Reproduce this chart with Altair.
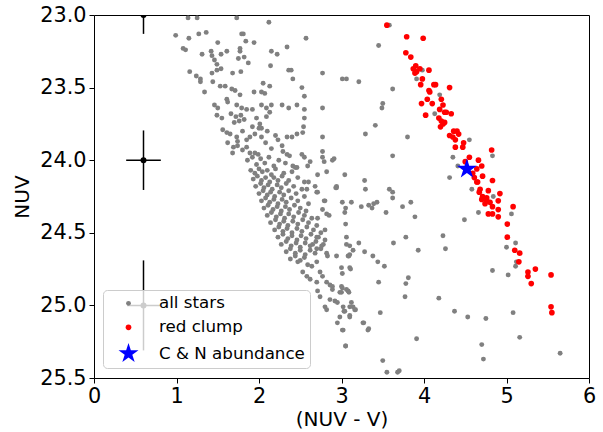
import altair as alt
import pandas as pd

# ---------------- data ----------------
gray_upper = [
    (1.14, 23.02), (1.25, 23.02), (1.73, 23.02), (2.12, 23.05), (0.99, 23.14), (1.15, 23.16),
    (1.27, 23.13), (1.36, 23.12), (1.79, 23.13), (1.81, 23.13), (2.57, 23.16), (1.50, 23.19),
    (1.84, 23.18), (1.94, 23.19), (1.08, 23.23), (1.11, 23.24), (1.31, 23.27), (1.42, 23.25),
    (1.43, 23.28), (1.54, 23.27), (1.61, 23.25), (1.77, 23.23), (1.77, 23.25), (2.15, 23.25),
    (2.22, 23.27), (2.34, 23.22), (1.46, 23.31), (1.49, 23.34), (1.75, 23.30), (1.82, 23.29),
    (1.87, 23.33), (2.14, 23.35), (1.16, 23.39), (1.24, 23.42), (1.29, 23.44), (1.29, 23.46),
    (1.43, 23.40), (1.49, 23.38), (1.54, 23.37), (1.68, 23.40), (1.78, 23.39), (2.36, 23.38),
    (2.39, 23.38), (2.41, 23.44), (2.77, 23.40), (3.01, 23.44), (3.06, 23.44), (1.34, 23.53),
    (1.44, 23.46), (1.53, 23.49), (1.59, 23.49), (1.67, 23.51), (1.71, 23.52), (1.77, 23.55),
    (1.94, 23.53), (2.03, 23.53), (2.07, 23.54), (2.05, 23.47), (2.13, 23.49), (2.52, 23.50),
    (2.55, 23.56), (1.46, 23.62), (1.50, 23.64), (1.49, 23.69), (1.55, 23.71), (1.61, 23.58),
    (1.62, 23.60), (1.73, 23.62), (1.79, 23.64), (1.85, 23.65), (1.92, 23.65), (2.03, 23.62),
    (2.09, 23.64), (2.15, 23.62), (2.13, 23.67), (2.09, 23.70), (2.28, 23.62), (2.36, 23.64),
    (2.46, 23.62), (2.55, 23.65), (2.55, 23.71), (2.77, 23.64), (1.66, 23.68), (1.72, 23.70),
    (1.78, 23.69), (1.82, 23.72), (1.70, 23.74), (1.76, 23.73), (1.97, 23.71), (2.01, 23.75),
    (1.92, 23.77), (2.03, 23.78), (1.56, 23.79), (1.61, 23.81), (1.65, 23.82), (1.73, 23.84),
    (1.74, 23.87), (1.85, 23.86), (1.89, 23.84), (1.95, 23.82), (2.03, 23.84), (2.00, 23.78),
    (2.23, 23.86), (2.28, 23.90), (2.34, 23.84), (2.40, 23.84), (2.46, 23.82), (2.53, 23.81),
    (2.54, 23.77), (2.77, 23.84), (1.69, 23.91), (1.74, 23.90), (1.80, 23.93), (1.85, 23.91),
    (1.89, 23.95), (1.95, 23.95), (1.99, 23.96), (2.29, 23.94), (2.34, 23.96), (2.37, 23.97),
    (2.52, 23.96), (2.55, 23.98), (2.62, 24.01), (2.59, 24.04), (2.77, 23.94), (2.77, 23.98),
    (2.89, 24.00), (2.82, 24.08), (3.04, 24.10), (2.71, 24.10), (2.70, 24.22), (2.94, 24.19),
    (2.79, 24.01), (2.91, 23.99), (2.93, 24.19), (1.62, 23.88), (1.68, 23.95), (2.08, 23.88),
    (2.15, 23.92), (2.10, 23.80), (2.20, 23.83), (1.80, 23.80), (2.41, 24.04), (2.46, 24.05),
    (2.55, 24.15), (2.60, 24.15), (2.68, 24.18), (2.71, 24.22), (2.58, 24.20),
]

gray_band = [
    (1.86, 24.00), (1.92, 23.98), (1.97, 24.03), (2.02, 23.99), (2.07, 24.02), (2.12, 23.98),
    (2.18, 24.04), (2.24, 24.00), (2.32, 24.02), (2.44, 24.05),
    (1.90, 24.07), (1.95, 24.09), (2.00, 24.06), (2.04, 24.08), (2.10, 24.07), (2.15, 24.10),
    (2.20, 24.06), (2.30, 24.09), (2.40, 24.08),
    (1.93, 24.13), (1.98, 24.11), (2.03, 24.14), (2.08, 24.12), (2.13, 24.15), (2.18, 24.12),
    (2.23, 24.14), (2.28, 24.11), (2.36, 24.14), (2.47, 24.12),
    (1.96, 24.18), (2.02, 24.16), (2.06, 24.19), (2.11, 24.17), (2.16, 24.20), (2.22, 24.17),
    (2.27, 24.19), (2.33, 24.16), (2.42, 24.18), (2.52, 24.20),
    (2.00, 24.23), (2.05, 24.21), (2.10, 24.24), (2.14, 24.22), (2.19, 24.25), (2.25, 24.22),
    (2.30, 24.24), (2.36, 24.21), (2.45, 24.23), (2.55, 24.25),
    (2.03, 24.28), (2.08, 24.26), (2.13, 24.29), (2.18, 24.27), (2.23, 24.30), (2.28, 24.27),
    (2.33, 24.29), (2.39, 24.26), (2.47, 24.28), (2.60, 24.30),
    (2.06, 24.33), (2.11, 24.31), (2.17, 24.34), (2.22, 24.32), (2.27, 24.35), (2.32, 24.32),
    (2.37, 24.34), (2.43, 24.31), (2.50, 24.33), (2.57, 24.35),
    (2.10, 24.38), (2.15, 24.36), (2.21, 24.39), (2.26, 24.37), (2.31, 24.40), (2.36, 24.37),
    (2.42, 24.39), (2.48, 24.36), (2.55, 24.38), (2.64, 24.40),
    (2.14, 24.43), (2.20, 24.41), (2.25, 24.44), (2.30, 24.42), (2.35, 24.45), (2.41, 24.42),
    (2.47, 24.44), (2.53, 24.41), (2.60, 24.43), (2.70, 24.45),
    (2.19, 24.48), (2.24, 24.46), (2.29, 24.49), (2.34, 24.47), (2.40, 24.50), (2.46, 24.47),
    (2.52, 24.49), (2.58, 24.46), (2.66, 24.48), (2.75, 24.50),
    (2.23, 24.53), (2.29, 24.51), (2.35, 24.54), (2.40, 24.52), (2.46, 24.55), (2.51, 24.52),
    (2.57, 24.54), (2.63, 24.51), (2.72, 24.53),
    (2.27, 24.58), (2.33, 24.56), (2.39, 24.59), (2.45, 24.57), (2.50, 24.60), (2.56, 24.57),
    (2.62, 24.59), (2.69, 24.56), (2.78, 24.58),
    (2.33, 24.63), (2.38, 24.61), (2.44, 24.64), (2.50, 24.62), (2.56, 24.65), (2.62, 24.62),
    (2.68, 24.64), (2.75, 24.61),
    (2.38, 24.68), (2.44, 24.66), (2.50, 24.69), (2.55, 24.67),
    (2.80, 24.28), (2.77, 24.34), (2.82, 24.37), (2.71, 24.40), (2.80, 24.48), (2.70, 24.53),
    (2.80, 24.55), (2.76, 24.59), (2.70, 24.61), (2.65, 24.58), (2.82, 24.64), (2.94, 24.66),
    (2.85, 24.38), (2.79, 24.28),
]

gray_lower = [
    (2.47, 24.70), (2.53, 24.77), (2.58, 24.80), (2.62, 24.82), (2.59, 24.72), (2.64, 24.73),
    (2.70, 24.70), (2.74, 24.77), (2.77, 24.80), (2.82, 24.84), (2.86, 24.86), (2.89, 24.87),
    (2.70, 24.84), (2.71, 24.90), (2.74, 24.94), (2.83, 24.66), (3.00, 24.74), (3.10, 24.74),
    (3.10, 24.65), (2.89, 24.89), (2.98, 24.91), (3.00, 24.87), (3.08, 24.90), (2.86, 24.96),
    (2.92, 24.97), (2.95, 24.98), (3.02, 25.01), (2.80, 25.01), (2.82, 25.03), (3.04, 25.04),
    (3.10, 25.01), (3.14, 25.01), (3.16, 25.03), (3.12, 24.98), (2.98, 25.08), (2.95, 25.12),
    (3.10, 25.08), (3.02, 25.17), (3.26, 25.12), (3.32, 25.17), (3.05, 25.28), (2.94, 24.18),
    (3.01, 24.29), (3.04, 24.36), (3.06, 24.58), (3.08, 24.66),
]

gray_right = [
    (3.58, 23.07), (3.45, 23.21), (3.21, 23.46), (3.62, 23.51), (3.50, 23.61), (3.49, 23.64),
    (3.41, 23.76), (3.29, 23.82), (3.80, 23.84), (3.62, 23.97), (3.28, 24.14), (3.29, 24.20),
    (3.58, 24.20), (3.62, 24.22), (3.62, 24.26), (3.98, 23.38), (3.91, 23.44), (4.19, 23.55),
    (4.13, 23.68), (4.55, 23.86), (4.35, 23.98), (4.41, 24.04), (4.31, 24.12), (4.58, 24.20),
    (4.83, 23.97), (4.84, 24.25), (4.66, 24.36), (4.49, 24.41), (5.06, 24.37), (5.11, 24.57),
    (5.00, 24.60), (5.12, 24.70), (5.11, 24.73), (4.83, 24.76), (5.02, 24.79), (4.23, 24.52),
    (4.26, 24.61), (4.18, 24.95), (4.37, 25.04), (4.53, 25.08), (4.75, 25.09), (5.08, 25.05),
    (5.16, 25.22), (4.70, 25.27), (4.72, 25.37), (5.65, 25.33), (3.91, 25.23), (3.50, 25.38),
    (3.55, 25.46), (3.68, 25.46), (3.70, 25.45), (3.05, 24.33), (3.12, 24.29), (3.24, 24.32),
    (3.33, 24.31), (3.39, 24.30), (3.43, 24.29), (3.54, 24.36), (3.74, 24.32), (3.84, 24.29),
    (3.89, 24.39), (3.05, 24.44), (3.06, 24.53), (3.10, 24.59), (3.14, 24.62), (3.09, 24.66),
    (3.21, 24.57), (3.28, 24.63), (3.38, 24.66), (3.44, 24.70), (3.52, 24.73), (3.63, 24.57),
    (3.78, 24.53), (3.93, 24.62), (3.01, 24.78), (3.11, 24.75), (3.81, 24.81), (3.78, 24.85),
    (3.77, 24.94), (3.45, 24.84), (3.01, 24.88), (3.06, 24.89), (3.09, 24.91), (3.00, 24.91),
    (3.17, 25.03), (3.03, 25.04), (3.10, 25.07), (3.47, 25.05), (3.27, 25.12), (3.33, 25.16),
    (3.01, 25.17), (3.05, 25.28), (3.37, 24.33),
]

red_clump = [
    (3.55, 23.07), (3.79, 23.15), (3.99, 23.16), (3.78, 23.26), (3.84, 23.29), (3.90, 23.35),
    (3.87, 23.37), (3.89, 23.40), (3.95, 23.37), (3.91, 23.39), (4.06, 23.38), (3.98, 23.44),
    (3.96, 23.48), (4.12, 23.48), (4.14, 23.48), (4.06, 23.52), (4.07, 23.53), (4.31, 23.50),
    (4.04, 23.58), (3.97, 23.61), (4.10, 23.61), (4.21, 23.58), (4.23, 23.62), (4.19, 23.65),
    (4.25, 23.67), (4.27, 23.67), (4.33, 23.68), (4.02, 23.69), (4.18, 23.71), (4.21, 23.73),
    (4.23, 23.75), (4.25, 23.74), (4.20, 23.77), (4.36, 23.80), (4.40, 23.80), (4.31, 23.83),
    (4.35, 23.84), (4.42, 23.82), (4.38, 23.86), (4.48, 23.88), (4.47, 23.91), (4.38, 23.91),
    (4.82, 23.93), (4.55, 23.98), (4.66, 24.00), (4.50, 24.01), (4.70, 24.04), (4.64, 24.06),
    (4.59, 24.09), (4.71, 24.11), (4.61, 24.12), (4.64, 24.15), (4.65, 24.15), (4.83, 24.14),
    (4.78, 24.21), (4.92, 24.23), (4.67, 24.22), (4.71, 24.25), (4.76, 24.26), (4.68, 24.20),
    (4.70, 24.27), (4.76, 24.28), (4.74, 24.30), (4.80, 24.29), (4.83, 24.32), (4.90, 24.28),
    (4.90, 24.34), (4.78, 24.37), (4.83, 24.37), (4.90, 24.39), (5.08, 24.32), (5.01, 24.44),
    (5.01, 24.53), (5.10, 24.62), (5.16, 24.64), (5.15, 24.70), (5.26, 24.77), (5.26, 24.80),
    (5.35, 24.75), (5.30, 24.85), (5.54, 24.79), (5.54, 25.01), (5.55, 25.05),
]

cn_abundance = [(4.52, 24.06)]

# representative error bars
err_x = [0.6, 0.6, 0.6]
err_y = [23.0, 24.0, 25.0]
err_xerr = [0.2, 0.21, 0.2]
err_yerr = [0.13, 0.205, 0.31]

groups = ["all stars", "red clump", "C & N abundance"]
colors = ["#808080", "#ff0000", "#0000ff"]
marker_sizes = [24, 32, 440]
x_ticks = [0, 1, 2, 3, 4, 5, 6]
y_ticks = [23.0, 23.5, 24.0, 24.5, 25.0, 25.5]

# ---------------- build tables ----------------
rows = []
for name, pts in [("all stars", gray_upper + gray_band + gray_lower + gray_right),
                  ("red clump", red_clump),
                  ("C & N abundance", cn_abundance)]:
    for px, py in pts:
        rows.append({"x": px, "y": py, "group": name})
df = pd.DataFrame(rows)
err_df = pd.DataFrame({"x": err_x, "y": err_y, "xerr": err_xerr, "yerr": err_yerr})

star_path = ("M0,-1L0.2245,-0.309L0.951,-0.309L0.363,0.118L0.588,0.809L0,0.382"
             "L-0.588,0.809L-0.363,0.118L-0.951,-0.309L-0.2245,-0.309Z")

xs = alt.Scale(domain=[0, 6], nice=False, zero=False)
ys = alt.Scale(domain=[23, 25.5], nice=False, zero=False, reverse=True)
x_axis = alt.Axis(title="(NUV - V)", values=x_ticks, format="d", titlePadding=4, labelFlush=False)
y_axis = alt.Axis(title="NUV", values=y_ticks, format=".1f", titlePadding=7, labelFlush=False)

legend = alt.Legend(
    title=None, orient="none", legendX=9, legendY=275, padding=5, rowPadding=6,
    symbolOffset=10, labelOffset=20, labelFontSize=16.7, labelFont="DejaVu Sans",
    labelColor="black", fillColor="rgba(255,255,255,0.8)", strokeColor="#cccccc",
    cornerRadius=4, symbolStrokeWidth=0,
)

base_err = alt.Chart(err_df).transform_calculate(
    y1="datum.y - datum.yerr", y2="datum.y + datum.yerr",
    x1="datum.x - datum.xerr", x2="datum.x + datum.xerr",
)
vbar = base_err.mark_rule(color="black", strokeWidth=1.5, clip=True).encode(
    x=alt.X("x:Q", scale=xs, axis=x_axis),
    y=alt.Y("y1:Q", scale=ys, axis=y_axis),
    y2="y2:Q",
)
hbar = base_err.mark_rule(color="black", strokeWidth=1.5, clip=True).encode(
    x=alt.X("x1:Q", scale=xs, axis=x_axis),
    x2="x2:Q",
    y=alt.Y("y:Q", scale=ys, axis=y_axis),
)
epts = base_err.mark_point(filled=True, color="black", size=36, opacity=1, clip=True).encode(
    x=alt.X("x:Q", scale=xs, axis=x_axis),
    y=alt.Y("y:Q", scale=ys, axis=y_axis),
)

points = alt.Chart(df).mark_point(filled=True, opacity=1, strokeWidth=0).encode(
    x=alt.X("x:Q", scale=xs, axis=x_axis),
    y=alt.Y("y:Q", scale=ys, axis=y_axis),
    color=alt.Color("group:N", scale=alt.Scale(domain=groups, range=colors), legend=legend),
    shape=alt.Shape("group:N", scale=alt.Scale(domain=groups, range=["circle", "circle", star_path]),
                    legend=legend),
    size=alt.Size("group:N", scale=alt.Scale(type="ordinal", domain=groups, range=marker_sizes),
                  legend=legend),
)

chart = alt.layer(vbar, hbar, epts, points).properties(
    width=495, height=363,
    autosize=alt.AutoSizeParams(type="none"),
    padding={"left": 94, "top": 15, "right": 14, "bottom": 54},
    background="white",
).configure_view(
    stroke="black", strokeWidth=1,
).configure_axis(
    grid=False, domain=False, labelFont="DejaVu Sans", titleFont="DejaVu Sans",
    labelFontSize=20.8, titleFontSize=20, titleFontWeight="normal",
    labelColor="black", titleColor="black", tickColor="black", tickSize=5,
    tickWidth=1, labelPadding=3,
)

chart.save("out.html", embed_options={"renderer": "svg", "actions": False})
